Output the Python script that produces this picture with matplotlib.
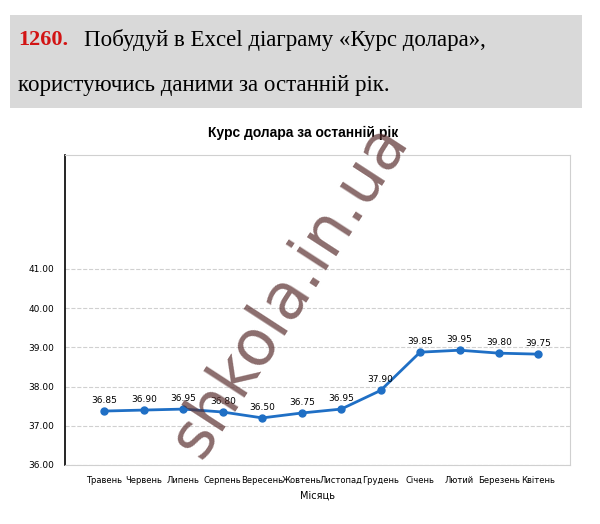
import matplotlib.pyplot as plt
from matplotlib.patches import Rectangle

months = ["Травень", "Червень", "Липень", "Серпень", "Вересень", "Жовтень",
          "Листопад", "Грудень", "Січень", "Лютий", "Березень", "Квітень"]
rates = [36.85, 36.90, 36.95, 36.80, 36.50, 36.75, 36.95, 37.90, 39.85, 39.95, 39.80, 39.75]
y_ticks = [36, 37, 38, 39, 40, 41]

W, H = 600, 524
fig = plt.figure(figsize=(W / 100, H / 100), dpi=100)
fig.patch.set_facecolor("white")

# header box
fig.patches.append(Rectangle((10 / W, 1 - 108 / H), 572 / W, 93 / H,
                             transform=fig.transFigure, facecolor="#d9d9d9",
                             edgecolor="none"))
fig.text(18 / W, 1 - 40 / H, "1260.", color="#d21414", fontsize=16,
         fontweight="bold", family="Liberation Serif", va="center")
fig.text(84 / W, 1 - 40 / H, "Побудуй в Excel діаграму «Курс долара»,",
         fontsize=16.5, family="Liberation Serif", va="center")
fig.text(18 / W, 1 - 86 / H, "користуючись даними за останній рік.",
         fontsize=16.5, family="Liberation Serif", va="center")

fig.text(303 / W, 1 - 133 / H, "Курс долара за останній рік", ha="center",
         va="center", fontsize=10, fontweight="bold", family="Liberation Sans")

ax = fig.add_axes([65 / W, 1 - 465 / H, 505 / W, 310 / H])
ax.set_xlim(-1, 11.8)
ax.set_ylim(36, 43.9)
ax.set_yticks(y_ticks)
ax.set_yticklabels([f"{v:.2f}" for v in y_ticks], fontsize=6.5)
ax.grid(axis="y", linestyle="--", color="#d0d0d0", linewidth=0.8)
ax.set_xticks(range(len(months)))
ax.set_xticklabels(months, fontsize=6)
ax.tick_params(length=0, pad=8)
for s in ["top", "right", "bottom"]:
    ax.spines[s].set_color("#d0d0d0")
ax.spines["left"].set_color("black")
ax.spines["left"].set_linewidth(1.2)
ax.set_xlabel("Місяць", fontsize=7, labelpad=4)

# values drawn on a hidden scale, as in the source
ax2 = ax.twinx()
ax2.set_ylim(34.1, 49.9)
ax2.axis("off")
ax2.plot(range(len(months)), rates, color="#1f6fc5", linewidth=2,
         marker="o", markersize=5)
for i, v in enumerate(rates):
    ax2.annotate(f"{v:.2f}", (i, v), xytext=(0, 6), textcoords="offset points",
                 ha="center", fontsize=6.5)

fig.text(290 / W, 1 - 290 / H, "shkola.in.ua", fontsize=46, rotation=57,
         ha="center", va="center", color="#5a3030", alpha=0.7,
         family="DejaVu Sans")

fig.savefig("out.png", dpi=100)
